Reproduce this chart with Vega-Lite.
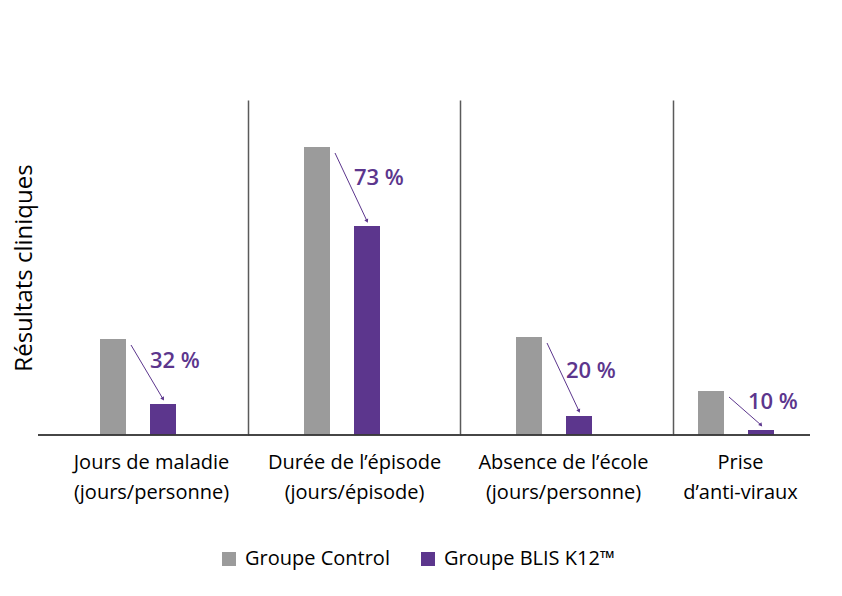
{
  "$schema": "https://vega.github.io/schema/vega-lite/v6.json",
  "padding": {"left": 12, "top": 100, "right": 5, "bottom": 5},
  "background": "white",
  "bounds": "flush",
  "data": {
    "values": [
      {"cat": "Jours de maladie", "control": 96, "blis": 31, "pct": "32 %"},
      {"cat": "Durée de l’épisode", "control": 288, "blis": 209, "pct": "73 %"},
      {"cat": "Absence de l’école", "control": 98, "blis": 19, "pct": "20 %"},
      {"cat": "Prise d’anti-viraux", "control": 44, "blis": 5, "pct": "10 %"}
    ]
  },
  "transform": [{"fold": ["control", "blis"], "as": ["series", "value"]}],
  "spacing": 0,
  "resolve": {"scale": {"x": "independent", "y": "shared", "color": "shared"}},
  "hconcat": [
    {
      "width": 210,
      "height": 335,
      "transform": [{"filter": "datum.cat == 'Jours de maladie'"}],
      "encoding": {
        "y": {
          "field": "value", "type": "quantitative",
          "scale": {"domain": [0, 335], "nice": false},
          "axis": {"title": "Résultats cliniques", "labels": false, "ticks": false, "domain": false, "grid": false, "titlePadding": 2, "minExtent": 0}
        }
      },
      "layer": [
        {
          "mark": {"type": "bar"},
          "encoding": {
            "x": {
              "field": "series", "type": "nominal",
              "scale": {"domain": ["control", "blis"], "range": [62, 138], "paddingInner": 0.48, "paddingOuter": 0},
              "axis": {"title": ["Jours de maladie", "(jours/personne)"], "titleX": 113}
            },
            "color": {
              "field": "series", "type": "nominal",
              "scale": {"domain": ["control", "blis"], "range": ["#9b9b9b", "#5c368d"]},
              "legend": {"labelExpr": "datum.label == 'control' ? 'Groupe Control' : 'Groupe BLIS K12™'"}
            }
          }
        },
        {
          "mark": {"type": "rule", "color": "#3a3a3a", "strokeWidth": 1.5},
          "encoding": {"y": {"datum": 0, "type": "quantitative"}}
        },
        {
          "transform": [{"filter": "datum.series == 'control'"}],
          "mark": {"type": "rule", "color": "#5c368d", "strokeWidth": 1, "xOffset": 5, "yOffset": 6, "y2Offset": -5},
          "encoding": {
            "x": {"datum": "control", "bandPosition": 1},
            "x2": {"datum": "blis"},
            "y": {"field": "control", "type": "quantitative"},
            "y2": {"field": "blis"}
          }
        },
        {
          "transform": [{"filter": "datum.series == 'control'"}],
          "mark": {"type": "point", "shape": "triangle-down", "filled": true, "size": 18, "angle": 330, "color": "#5c368d", "opacity": 1, "yOffset": -5},
          "encoding": {
            "x": {"datum": "blis"},
            "y": {"field": "blis", "type": "quantitative"}
          }
        },
        {
          "transform": [{"filter": "datum.series == 'control'"}],
          "mark": {"type": "text", "align": "left", "baseline": "middle", "fontSize": 22, "fontWeight": 600, "color": "#5c368d", "yOffset": -43},
          "encoding": {
            "x": {"datum": "blis", "bandPosition": 0},
            "y": {"field": "blis", "type": "quantitative"},
            "text": {"field": "pct"}
          }
        }
      ]
    },
    {
      "width": 212,
      "height": 335,
      "transform": [{"filter": "datum.cat == 'Durée de l’épisode'"}],
      "encoding": {
        "y": {
          "field": "value", "type": "quantitative",
          "scale": {"domain": [0, 335], "nice": false},
          "axis": {"title": null, "labels": false, "ticks": false, "domain": true, "grid": false, "minExtent": 0}
        }
      },
      "layer": [
        {
          "mark": {"type": "bar"},
          "encoding": {
            "x": {
              "field": "series", "type": "nominal",
              "scale": {"domain": ["control", "blis"], "range": [56, 132], "paddingInner": 0.48, "paddingOuter": 0},
              "axis": {"title": ["Durée de l’épisode", "(jours/épisode)"], "titleX": 106}
            },
            "color": {"field": "series", "type": "nominal"}
          }
        },
        {
          "mark": {"type": "rule", "color": "#3a3a3a", "strokeWidth": 1.5},
          "encoding": {"y": {"datum": 0, "type": "quantitative"}}
        },
        {
          "transform": [{"filter": "datum.series == 'control'"}],
          "mark": {"type": "rule", "color": "#5c368d", "strokeWidth": 1, "xOffset": 5, "yOffset": 6, "y2Offset": -5},
          "encoding": {
            "x": {"datum": "control", "bandPosition": 1},
            "x2": {"datum": "blis"},
            "y": {"field": "control", "type": "quantitative"},
            "y2": {"field": "blis"}
          }
        },
        {
          "transform": [{"filter": "datum.series == 'control'"}],
          "mark": {"type": "point", "shape": "triangle-down", "filled": true, "size": 18, "angle": 335, "color": "#5c368d", "opacity": 1, "yOffset": -5},
          "encoding": {
            "x": {"datum": "blis"},
            "y": {"field": "blis", "type": "quantitative"}
          }
        },
        {
          "transform": [{"filter": "datum.series == 'control'"}],
          "mark": {"type": "text", "align": "left", "baseline": "middle", "fontSize": 22, "fontWeight": 600, "color": "#5c368d", "yOffset": -48},
          "encoding": {
            "x": {"datum": "blis", "bandPosition": 0},
            "y": {"field": "blis", "type": "quantitative"},
            "text": {"field": "pct"}
          }
        }
      ]
    },
    {
      "width": 213,
      "height": 335,
      "transform": [{"filter": "datum.cat == 'Absence de l’école'"}],
      "encoding": {
        "y": {
          "field": "value", "type": "quantitative",
          "scale": {"domain": [0, 335], "nice": false},
          "axis": {"title": null, "labels": false, "ticks": false, "domain": true, "grid": false, "minExtent": 0}
        }
      },
      "layer": [
        {
          "mark": {"type": "bar"},
          "encoding": {
            "x": {
              "field": "series", "type": "nominal",
              "scale": {"domain": ["control", "blis"], "range": [56, 132], "paddingInner": 0.48, "paddingOuter": 0},
              "axis": {"title": ["Absence de l’école", "(jours/personne)"], "titleX": 103}
            },
            "color": {"field": "series", "type": "nominal"}
          }
        },
        {
          "mark": {"type": "rule", "color": "#3a3a3a", "strokeWidth": 1.5},
          "encoding": {"y": {"datum": 0, "type": "quantitative"}}
        },
        {
          "transform": [{"filter": "datum.series == 'control'"}],
          "mark": {"type": "rule", "color": "#5c368d", "strokeWidth": 1, "xOffset": 5, "yOffset": 6, "y2Offset": -5},
          "encoding": {
            "x": {"datum": "control", "bandPosition": 1},
            "x2": {"datum": "blis"},
            "y": {"field": "control", "type": "quantitative"},
            "y2": {"field": "blis"}
          }
        },
        {
          "transform": [{"filter": "datum.series == 'control'"}],
          "mark": {"type": "point", "shape": "triangle-down", "filled": true, "size": 18, "angle": 335, "color": "#5c368d", "opacity": 1, "yOffset": -5},
          "encoding": {
            "x": {"datum": "blis"},
            "y": {"field": "blis", "type": "quantitative"}
          }
        },
        {
          "transform": [{"filter": "datum.series == 'control'"}],
          "mark": {"type": "text", "align": "left", "baseline": "middle", "fontSize": 22, "fontWeight": 600, "color": "#5c368d", "yOffset": -45},
          "encoding": {
            "x": {"datum": "blis", "bandPosition": 0},
            "y": {"field": "blis", "type": "quantitative"},
            "text": {"field": "pct"}
          }
        }
      ]
    },
    {
      "width": 137,
      "height": 335,
      "transform": [{"filter": "datum.cat == 'Prise d’anti-viraux'"}],
      "encoding": {
        "y": {
          "field": "value", "type": "quantitative",
          "scale": {"domain": [0, 335], "nice": false},
          "axis": {"title": null, "labels": false, "ticks": false, "domain": true, "grid": false, "minExtent": 0}
        }
      },
      "layer": [
        {
          "mark": {"type": "bar"},
          "encoding": {
            "x": {
              "field": "series", "type": "nominal",
              "scale": {"domain": ["control", "blis"], "range": [25, 101], "paddingInner": 0.48, "paddingOuter": 0},
              "axis": {"title": ["Prise", "d’anti-viraux"], "titleX": 67}
            },
            "color": {"field": "series", "type": "nominal"}
          }
        },
        {
          "mark": {"type": "rule", "color": "#3a3a3a", "strokeWidth": 1.5},
          "encoding": {"y": {"datum": 0, "type": "quantitative"}}
        },
        {
          "transform": [{"filter": "datum.series == 'control'"}],
          "mark": {"type": "rule", "color": "#5c368d", "strokeWidth": 1, "xOffset": 5, "yOffset": 6, "y2Offset": -5},
          "encoding": {
            "x": {"datum": "control", "bandPosition": 1},
            "x2": {"datum": "blis"},
            "y": {"field": "control", "type": "quantitative"},
            "y2": {"field": "blis"}
          }
        },
        {
          "transform": [{"filter": "datum.series == 'control'"}],
          "mark": {"type": "point", "shape": "triangle-down", "filled": true, "size": 18, "angle": 320, "color": "#5c368d", "opacity": 1, "yOffset": -5},
          "encoding": {
            "x": {"datum": "blis"},
            "y": {"field": "blis", "type": "quantitative"}
          }
        },
        {
          "transform": [{"filter": "datum.series == 'control'"}],
          "mark": {"type": "text", "align": "left", "baseline": "middle", "fontSize": 22, "fontWeight": 600, "color": "#5c368d", "yOffset": -28},
          "encoding": {
            "x": {"datum": "blis", "bandPosition": 0},
            "y": {"field": "blis", "type": "quantitative"},
            "text": {"field": "pct"}
          }
        }
      ]
    }
  ],
  "config": {
    "font": "Open Sans",
    "view": {"stroke": null},
    "axisX": {
      "labels": false, "ticks": false, "domain": false,
      "titleFontSize": 20, "titleFontWeight": "normal", "titleColor": "#000000",
      "titlePadding": 17, "titleLineHeight": 30, "minExtent": 0
    },
    "axisY": {
      "domainColor": "#5a5a5a", "domainWidth": 1.5,
      "titleFontSize": 24, "titleFontWeight": "normal", "titleColor": "#000000"
    },
    "legend": {
      "orient": "none", "legendX": 181, "legendY": 449, "direction": "horizontal",
      "title": null, "symbolType": "square", "symbolSize": 196, "symbolStrokeWidth": 0,
      "symbolOpacity": 1, "labelFontSize": 20, "labelColor": "#000000", "labelOffset": 6,
      "labelLimit": 300, "columnPadding": 28
    }
  }
}
